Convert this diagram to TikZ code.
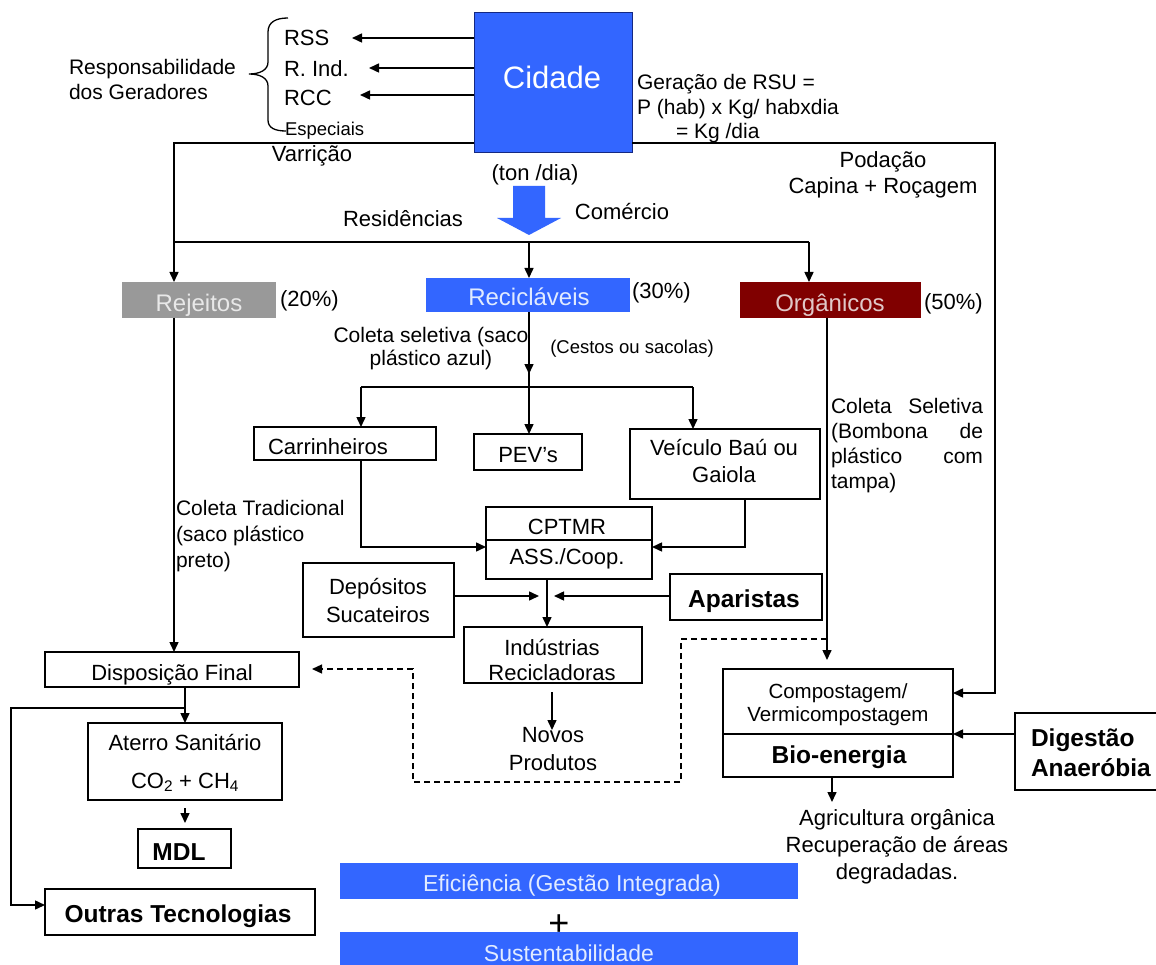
\documentclass[tikz,border=0pt]{standalone}
\usepackage{fontspec}
\setmainfont{Liberation Sans}
\usetikzlibrary{arrows.meta}
\definecolor{cblue}{RGB}{51,102,255}
\definecolor{cnavy}{RGB}{20,40,130}
\definecolor{cred}{RGB}{128,0,0}
\definecolor{cgray}{RGB}{153,153,153}
\definecolor{rejtext}{RGB}{232,232,232}
\definecolor{bluetext}{RGB}{225,235,255}
\definecolor{redtext}{RGB}{225,200,200}
\newcommand{\fsz}[2]{\fontsize{#1}{#2}\selectfont}
\begin{document}
\begin{tikzpicture}[x=1pt,y=-1pt,
  every node/.style={inner sep=0pt,outer sep=0pt},
  ln/.style={line width=1.5pt},
  arr/.style={line width=1.5pt,-{Triangle[length=10pt,width=9pt]}},
  dsh/.style={line width=1.3pt,dash pattern=on 6pt off 4pt,-{Triangle[length=10pt,width=9pt]}},
  box/.style={draw,line width=1.5pt,fill=white},
  tn/.style={font=\fsz{22}{25}},
  ts/.style={font=\fsz{18.5}{22}},
  tb/.style={font=\bfseries\fsz{24.5}{30}},
  tc/.style={font=\fsz{24}{28}},
]
\useasboundingbox (0,0) rectangle (1156,965);
\fill[white] (0,0) rectangle (1156,965);

% ---------- boxes ----------
\node[fill=cblue,draw=cnavy,line width=1pt,minimum width=158pt,minimum height=140pt] (cidade) at (553,83) {};
\node[anchor=base,font=\fsz{31}{36},text=white] (cidadetxt) at (552,89) {Cidade};

\node[fill=cgray,minimum width=154pt,minimum height=36pt] (rejeitos) at (199,300) {};
\node[anchor=base,tc,text=rejtext] (rejeitostxt) at (199,312) {Rejeitos};
\node[fill=cblue,minimum width=204pt,minimum height=34pt] (recic) at (528,295) {};
\node[anchor=base,tc,text=bluetext] (recictxt) at (529,306) {Recicláveis};
\node[fill=cred,minimum width=181pt,minimum height=36pt] (organ) at (830.5,300) {};
\node[anchor=base,tc,text=redtext] (organtxt) at (830,312) {Orgânicos};

\node[box,minimum width=182pt,minimum height=33pt] (carr) at (345,443.5) {};
\node[anchor=base,tn] (carrtxt) at (328,454) {Carrinheiros};
\node[box,minimum width=108pt,minimum height=36pt] (pevs) at (528,452) {};
\node[anchor=base,tn] (pevstxt) at (528,462) {PEV's};
\node[box,minimum width=190pt,minimum height=70pt] (veic) at (725,464) {};
\node[anchor=base,tn,align=center,font=\fsz{22}{27}] (veictxt) at (724,482) {Veículo Baú ou\\Gaiola};

\node[box,minimum width=166pt,minimum height=72pt] (cptmr) at (569,543) {};
\draw[ln] (cptmr.west |- 0,540) -- (cptmr.east |- 0,540);
\node[anchor=base,tn] (cptmrtxt) at (567,534) {CPTMR};
\node[anchor=base,tn] (cooptxt) at (567,564) {ASS./Coop.};

\node[box,minimum width=151pt,minimum height=74pt] (depos) at (378.5,600) {};
\node[anchor=base,align=center,font=\fsz{22}{28}] (depostxt) at (378,622) {Depósitos\\Sucateiros};
\node[box,minimum width=152pt,minimum height=46pt] (apar) at (746,597) {};
\node[anchor=base,tb] (apartxt) at (744,607) {Aparistas};
\node[box,minimum width=178pt,minimum height=56pt] (indus) at (553,655) {};
\node[anchor=base,align=center,font=\fsz{22}{25}] (industxt) at (552,680) {Indústrias\\Recicladoras};
\node[anchor=base,align=center,font=\fsz{22}{28}] (novos) at (553,770) {Novos\\Produtos};

\node[box,minimum width=254pt,minimum height=35pt] (dispo) at (172,669.5) {};
\node[anchor=base,tn] (dispotxt) at (172,680) {Disposição Final};
\node[box,minimum width=194pt,minimum height=77pt] (aterro) at (185,761.5) {};
\node[anchor=base,tn] (aterrotxt) at (185,750) {Aterro Sanitário};
\node[anchor=base,tn] (gastxt) at (185,788) {CO\textsubscript{2} + CH\textsubscript{4}};
\node[box,minimum width=93pt,minimum height=39pt] (mdl) at (184.5,848.5) {};
\node[anchor=base,tb] (mdltxt) at (179,860) {MDL};
\node[box,minimum width=270pt,minimum height=46pt] (outras) at (180,912) {};
\node[anchor=base,tb] (outrastxt) at (178,922) {Outras Tecnologias};

\node[box,minimum width=230pt,minimum height=108pt] (compost) at (838,723) {};
\draw[ln] (compost.west |- 0,734) -- (compost.east |- 0,734);
\node[anchor=base,align=center,font=\fsz{20.5}{23}] (composttxt) at (838,721) {Compostagem/\\Vermicompostagem};
\node[anchor=base,tb] (biotxt) at (839,763) {Bio-energia};
\node[box,minimum width=155pt,minimum height=77pt] (digest) at (1092.5,751.5) {};
\node[anchor=base west,align=left,font=\bfseries\fsz{24.5}{30}] (digesttxt) at (1031,776) {Digestão\\Anaeróbia};

\node[fill=cblue,minimum width=458pt,minimum height=36pt] (efic) at (569,881) {};
\node[anchor=base,font=\fsz{23}{27},text=bluetext] (eficttxt) at (572,891) {Eficiência (Gestão Integrada)};
\node[anchor=base,font=\fsz{36}{40}] (plus) at (559,935) {+};
\node[fill=cblue,minimum width=458pt,minimum height=40pt] (sust) at (569,952) {};
\node[anchor=base,font=\fsz{23}{27},text=bluetext] (susttxt) at (569,961) {Sustentabilidade};

% ---------- free texts ----------
\node[anchor=base west,align=left,font=\fsz{21}{25}] (resp) at (69,100) {Responsabilidade\\dos Geradores};
\node[anchor=base west,tn] (rss) at (284,46) {RSS};
\node[anchor=base west,tn] (rind) at (284,77) {R. Ind.};
\node[anchor=base west,tn] (rcc) at (284,106) {RCC};
\node[anchor=base west,ts] (esp) at (285,136) {Especiais};
\node[anchor=base,tn] (varr) at (312,162) {Varrição};
\node[anchor=base west,align=left,font=\fsz{21}{24.5}] (geracao) at (637,139) {Geração de RSU =\\P (hab) x Kg/ habxdia\\\hspace*{39pt}= Kg /dia};
\node[anchor=base,tn] (ton) at (535,181) {(ton /dia)};
\node[anchor=base,tn] (resid) at (403,227) {Residências};
\node[anchor=base,tn] (comer) at (622,220) {Comércio};
\node[anchor=base,align=center,font=\fsz{22}{26}] (podacao) at (883,194) {Podação\\Capina + Roçagem};
\node[anchor=base west,tn] (p20) at (280,307) {(20\%)};
\node[anchor=base west,tn] (p30) at (632,299) {(30\%)};
\node[anchor=base west,tn] (p50) at (924,310) {(50\%)};
\node[anchor=base,align=center,font=\fsz{21}{24}] (colsel) at (431,366) {Coleta seletiva (saco\\plástico azul)};
\node[anchor=base,ts] (cestos) at (632,353) {(Cestos ou sacolas)};
\node[anchor=base west,align=left,font=\fsz{21}{26}] (coltrad) at (176,567) {Coleta Tradicional\\(saco plástico\\preto)};
\node[anchor=base west,align=left,font=\fsz{21}{25}] (colorg) at (831,488) {\makebox[152pt][s]{Coleta Seletiva}\\\makebox[152pt][s]{(Bombona de}\\\makebox[152pt][s]{plástico com}\\tampa)};
\node[anchor=base,align=center,font=\fsz{22}{27}] (agric) at (897,879) {Agricultura orgânica\\Recuperação de áreas\\degradadas.};

% ---------- brace ----------
\draw[line width=1.3pt] (288,18) .. controls (276,18) and (268,22) .. (268,32) -- (268,62)
  .. controls (268,70) and (260,74) .. (249,74) .. controls (260,74) and (268,78) .. (268,86)
  -- (268,120) .. controls (268,128) and (275,131) .. (286,131);

% ---------- big arrow ----------
\fill[cblue] (513,186) -- (545,186) -- (545,218) -- (561,218) -- (529,235) -- (497,218) -- (513,218) -- cycle;

% ---------- connectors ----------
\coordinate (rssT) at (352,38);
\coordinate (rindT) at (369,68);
\coordinate (rccT) at (360,95);
\draw[arr] (cidade.west |- rssT) -- (rssT);
\draw[arr] (cidade.west |- rindT) -- (rindT);
\draw[arr] (cidade.west |- rccT) -- (rccT);

\coordinate (topL) at (174,143);
\coordinate (topR) at (995,143);
\coordinate (compIn) at (995,693);
\draw[arr] (cidade.west |- topL) -- (topL) -- (topL |- rejeitos.north);
\draw[arr] (cidade.east |- topR) -- (topR) -- (compIn) -- (compIn -| compost.east);

\coordinate (midL) at (174,242);
\coordinate (midC) at (529,242);
\coordinate (midR) at (809,242);
\draw[ln] (midL) -- (midR);
\draw[arr] (midR) -- (midR |- organ.north);
\draw[arr] (midC) -- (midC |- recic.north);

\coordinate (recT) at (529,374);
\coordinate (brC) at (529,387);
\coordinate (brL) at (361,387);
\coordinate (brR) at (693,387);
\draw[arr] (recT |- recic.south) -- (recT);
\draw[ln] (529,370) -- (brC);
\draw[ln] (brL) -- (brR);
\draw[arr] (brL) -- (brL |- carr.north);
\draw[arr] (brC) -- (brC |- pevs.north);
\draw[arr] (brR) -- (brR |- veic.north);

\coordinate (cpL) at (361,547);
\coordinate (cpR) at (745,547);
\draw[arr] (cpL |- carr.south) -- (cpL) -- (cpL -| cptmr.west);
\draw[arr] (cpR |- veic.south) -- (cpR) -- (cpR -| cptmr.east);

\coordinate (jL) at (539,596);
\coordinate (jR) at (554,596);
\draw[arr] (depos.east |- jL) -- (jL);
\draw[arr] (apar.west |- jR) -- (jR);
\coordinate (cpx) at (547,600);
\draw[arr] (cpx |- cptmr.south) -- (cpx |- indus.north);

\coordinate (nvS) at (552,692);
\coordinate (nvT) at (552,730);
\draw[arr] (nvS) -- (nvT);

\coordinate (rjx) at (174,500);
\draw[arr] (rjx |- rejeitos.south) -- (rjx |- dispo.north);
\coordinate (dpx) at (185,708);
\draw[arr] (dpx |- dispo.south) -- (dpx |- aterro.north);
\coordinate (otL) at (11,708);
\coordinate (otB) at (11,905);
\draw[arr] (dpx) -- (otL) -- (otB) -- (otB -| outras.west);
\coordinate (mdS) at (185,808);
\coordinate (mdT) at (185,823);
\draw[arr] (mdS) -- (mdT);

\coordinate (d1) at (827,639);
\coordinate (d2) at (681,639);
\coordinate (d3) at (681,782);
\coordinate (d4) at (413,782);
\coordinate (d5) at (413,669);
\coordinate (d6) at (312,669);
\draw[dsh] (d1) -- (d2) -- (d3) -- (d4) -- (d5) -- (d6);

\coordinate (orx) at (827,660);
\draw[arr] (orx |- organ.south) -- (orx);
\coordinate (dgy) at (0,734);
\draw[arr] (digest.west |- dgy) -- (compost.east |- dgy);
\coordinate (agT) at (832,802);
\draw[arr] (agT |- compost.south) -- (agT);
\end{tikzpicture}
\end{document}
